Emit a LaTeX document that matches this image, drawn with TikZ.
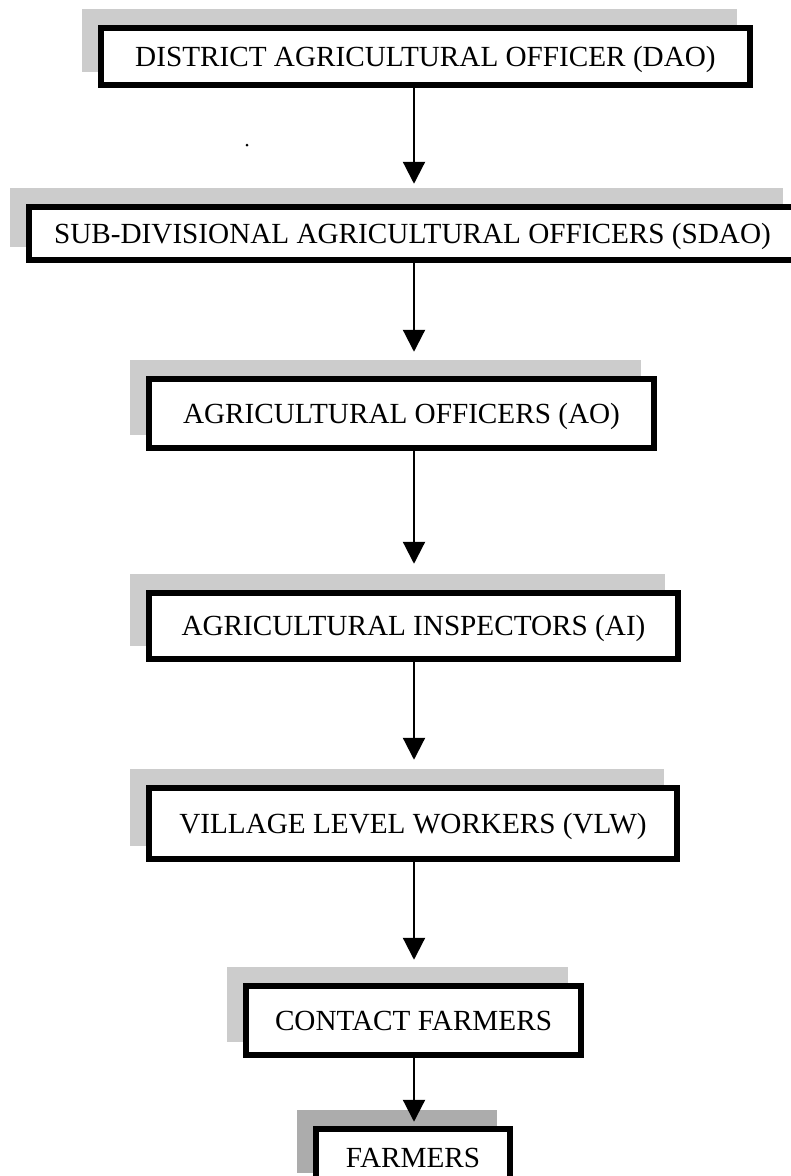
\documentclass[tikz,border=0pt]{standalone}
\usepackage{fontspec}
\setmainfont{Liberation Serif}
\usetikzlibrary{arrows.meta, shadows}

\begin{document}
\begin{tikzpicture}[x=1pt, y=-1pt,
                        box/.style={draw, fill=white, line width=6.5pt, inner sep=0pt,
                            text height=19pt, text depth=0pt,
                            font=\fontsize{29.2}{35}\selectfont,
                            general shadow={shadow xshift=-16pt, shadow yshift=16pt,
                                fill=#1, draw=#1, line width=6.5pt}},
                        box/.default=gray!40,
                        flow/.style={draw, line width=2.2pt, -{Triangle[width=22pt, length=22pt]}}]

        \useasboundingbox (0,0) rectangle (791,1176);
        \clip (0,0) rectangle (791,1176);

        % Top level
        \node[box, minimum width=649pt, minimum height=57pt] (dao) at (425.5,56.5)
            {DISTRICT AGRICULTURAL OFFICER (DAO)};
        \node[box, minimum width=767pt, minimum height=53pt] (sdao) at (412.5,233.5)
            {SUB-DIVISIONAL AGRICULTURAL OFFICERS (SDAO)};
        \node[box, minimum width=505pt, minimum height=69pt] (ao) at (401.5,413.5)
            {AGRICULTURAL OFFICERS (AO)};
        % Field level
        \node[box, minimum width=529pt, minimum height=66pt] (ai) at (413.5,626)
            {AGRICULTURAL INSPECTORS (AI)};
        \node[box, minimum width=528pt, minimum height=71pt] (vlw) at (413,823.5)
            {VILLAGE LEVEL WORKERS (VLW)};
        \node[box, minimum width=335pt, minimum height=69pt] (cf) at (413.5,1020.5)
            {CONTACT FARMERS};
        \node[box=gray!65, minimum width=194pt, minimum height=57pt] (farmers) at (413,1157.5)
            {FARMERS};

        \coordinate (spine) at (414,0);
        \fill (247,145) circle (1.5pt);

        % Chain of command
        \draw[flow, shorten >=20pt] (dao.south -| spine) -- (sdao.north -| spine);
        \draw[flow, shorten >=24pt] (sdao.south -| spine) -- (ao.north -| spine);
        \draw[flow, shorten >=26pt] (ao.south -| spine) -- (ai.north -| spine);
        \draw[flow, shorten >=25pt] (ai.south -| spine) -- (vlw.north -| spine);
        \draw[flow, shorten >=23pt] (vlw.south -| spine) -- (cf.north -| spine);
        \draw[flow, shorten >=4pt] (cf.south -| spine) -- (farmers.north -| spine);

    \end{tikzpicture}
\end{document}
